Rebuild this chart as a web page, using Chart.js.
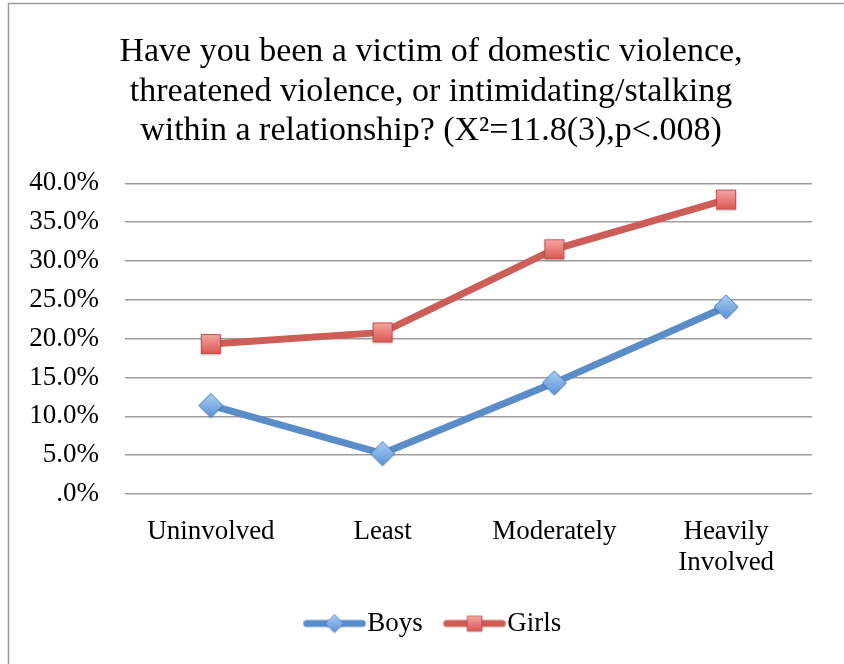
<!DOCTYPE html>
<html>
<head>
<meta charset="utf-8">
<script src="https://cdn.jsdelivr.net/npm/chart.js@4/dist/chart.umd.min.js"></script>
<style>
html,body{margin:0;padding:0;background:#fff;overflow:hidden;}
#wrap{position:relative;width:844px;height:664px;}
</style>
</head>
<body>
<div id="wrap"><canvas id="c" width="844" height="664"></canvas></div>
<script>
const categories = [['Uninvolved'], ['Least'], ['Moderately'], ['Heavily', 'Involved']];
const boysValues = [11.4, 5.2, 14.3, 24.1];
const girlsValues = [19.3, 20.8, 31.5, 37.9];
const yTickValues = [0, 5, 10, 15, 20, 25, 30, 35, 40];
const yTickLabels = ['.0%', '5.0%', '10.0%', '15.0%', '20.0%', '25.0%', '30.0%', '35.0%', '40.0%'];
const titleLines = ['Have you been a victim of domestic violence,', 'threatened violence, or intimidating/stalking', 'within a relationship? (X\u00B2=11.8(3),p<.008)'];

const FONT = "'Liberation Serif', 'Times New Roman', serif";
const BLUE = 'rgb(90,141,200)';
const RED = 'rgb(205,94,87)';

function diamondImg() {
  const c = document.createElement('canvas'); c.width = 28; c.height = 28;
  const x = c.getContext('2d');
  const g = x.createLinearGradient(0, 2, 0, 26);
  g.addColorStop(0, '#a9cdf3'); g.addColorStop(1, '#5c93d6');
  x.shadowColor = 'rgba(0,0,0,0.25)'; x.shadowBlur = 2; x.shadowOffsetY = 1;
  x.beginPath(); x.moveTo(14, 2); x.lineTo(26, 14); x.lineTo(14, 26); x.lineTo(2, 14); x.closePath();
  x.fillStyle = g; x.fill();
  x.shadowColor = 'transparent';
  x.lineWidth = 1; x.strokeStyle = '#4f81bd'; x.stroke();
  return c;
}
function squareImg() {
  const c = document.createElement('canvas'); c.width = 26; c.height = 26;
  const x = c.getContext('2d');
  const g = x.createLinearGradient(0, 3, 0, 23);
  g.addColorStop(0, '#f6a8a4'); g.addColorStop(1, '#db5550');
  x.shadowColor = 'rgba(0,0,0,0.25)'; x.shadowBlur = 2; x.shadowOffsetY = 1;
  x.fillStyle = g; x.fillRect(3, 3, 20, 20);
  x.shadowColor = 'transparent';
  x.lineWidth = 1; x.strokeStyle = '#c0504d'; x.strokeRect(3.5, 3.5, 19, 19);
  return c;
}
const dImg = diamondImg(), sImg = squareImg();
// legend symbol (line with marker), drawn into an image centred on the legend box
function legendImg(color, m, s) {
  const c = document.createElement('canvas'); c.width = 88; c.height = 24;
  const x = c.getContext('2d');
  const x0 = 23.5, x1 = 79;
  x.strokeStyle = color; x.lineWidth = 7; x.lineCap = 'round';
  x.beginPath(); x.moveTo(x0, 12); x.lineTo(x1, 12); x.stroke();
  const cx = (x0 + x1) / 2;
  x.drawImage(m, cx - s / 2, 12 - s / 2, s, s);
  return c;
}
const boysLegend = legendImg(BLUE, dImg, 21), girlsLegend = legendImg(RED, sImg, 20);

const framePlugin = {
  id: 'frame',
  beforeDraw(chart) {
    const ctx = chart.ctx;
    ctx.save();
    ctx.strokeStyle = '#9a9a9a'; ctx.lineWidth = 1.5;
    ctx.beginPath(); ctx.moveTo(8.5, 700); ctx.lineTo(8.5, 3.5); ctx.lineTo(900, 3.5); ctx.stroke();
    ctx.restore();
  }
};

new Chart(document.getElementById('c'), {
  type: 'line',
  data: {
    labels: categories,
    datasets: [
      { label: 'Boys', data: boysValues, borderColor: BLUE, backgroundColor: BLUE, borderWidth: 7,
        pointStyle: dImg, pointRadius: 13, pointHoverRadius: 13, tension: 0 },
      { label: 'Girls', data: girlsValues, borderColor: RED, backgroundColor: RED, borderWidth: 7,
        pointStyle: sImg, pointRadius: 12, pointHoverRadius: 12, tension: 0 }
    ]
  },
  options: {
    responsive: false,
    animation: false,
    devicePixelRatio: 1,
    layout: { padding: { left: 25, right: 7, top: 0, bottom: 17 } },
    plugins: {
      title: {
        display: true, text: titleLines, color: '#000',
        font: { family: FONT, size: 34, weight: 'normal', lineHeight: 1.15 },
        padding: { top: 33, bottom: 33 }
      },
      legend: {
        position: 'bottom',
        labels: {
          color: '#000', font: { family: FONT, size: 27 },
          usePointStyle: true, pointStyleWidth: 53, padding: 18,
          generateLabels(chart) {
            return chart.data.datasets.map((ds, i) => ({
              text: ds.label, fillStyle: ds.borderColor, strokeStyle: ds.borderColor,
              pointStyle: i === 0 ? boysLegend : girlsLegend, datasetIndex: i, hidden: false, lineWidth: 0
            }));
          }
        }
      },
      tooltip: { enabled: false }
    },
    scales: {
      x: {
        offset: true,
        grid: { display: false },
        border: { display: false },
        ticks: { color: '#000', font: { family: FONT, size: 27, lineHeight: 1.15 }, padding: 14, maxRotation: 0, autoSkip: false }
      },
      y: {
        min: 0, max: 40,
        afterFit(s) { s.width = 100; },
        afterBuildTicks(s) { s.ticks = yTickValues.map(v => ({ value: v })); },
        grid: { color: '#9d9d9d', lineWidth: 1.5, drawTicks: false },
        border: { display: false },
        ticks: {
          color: '#000', font: { family: FONT, size: 27 }, padding: 26,
          callback(v) { const i = yTickValues.indexOf(v); return i >= 0 ? yTickLabels[i] : ''; }
        }
      },
      yRight: {
        position: 'right', min: 0, max: 40,
        afterFit(s) { s.width = 25; },
        grid: { display: false, drawTicks: false },
        border: { display: false },
        ticks: { display: false }
      }
    }
  },
  plugins: [framePlugin]
});
</script>
</body>
</html>
